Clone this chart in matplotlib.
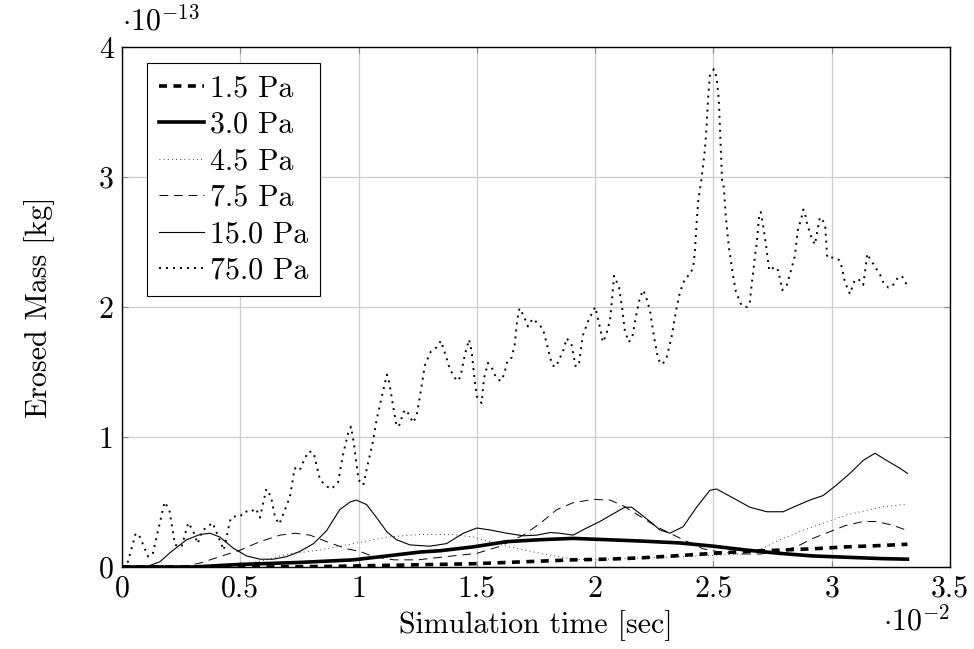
import matplotlib
matplotlib.use("Agg")
import matplotlib.pyplot as plt

plt.rcParams['font.family'] = 'cmr10'
plt.rcParams['mathtext.fontset'] = 'cm'
plt.rcParams['axes.formatter.use_mathtext'] = True

# time in 1e-2 s, mass in 1e-13 kg
t_1p5 = [0, 0.6, 0.9, 1.1, 1.344, 1.485, 1.626, 1.767, 1.907, 2.049,
         2.19, 2.33, 2.50, 2.64, 2.78, 2.92, 3.063, 3.204, 3.32]
m_1p5 = [0, 0.0, 0.005, 0.012, 0.02, 0.025, 0.035, 0.045, 0.055, 0.06,
         0.07, 0.085, 0.105, 0.12, 0.13, 0.14, 0.155, 0.165, 0.175]

t_3p0 = [0, 0.3, 0.5, 0.75, 0.978, 1.12, 1.26, 1.344, 1.485, 1.626, 1.767,
         1.907, 2.049, 2.19, 2.358, 2.50, 2.64, 2.78, 2.92, 3.063, 3.204, 3.32]
m_3p0 = [0, 0.0, 0.02, 0.035, 0.055, 0.085, 0.115, 0.125, 0.155, 0.195, 0.21,
         0.22, 0.21, 0.20, 0.185, 0.16, 0.13, 0.105, 0.085, 0.075, 0.065, 0.06]

t_4p5 = [0, 0.45, 0.6, 0.668, 0.724, 0.837, 0.978, 1.12, 1.26, 1.344, 1.40,
         1.485, 1.626, 1.767, 1.907, 1.99, 2.12, 2.3, 2.5, 2.62, 2.71, 2.78,
         2.92, 3.063, 3.204, 3.32]
m_4p5 = [0, 0.0, 0.05, 0.085, 0.105, 0.13, 0.18, 0.23, 0.25, 0.25, 0.25,
         0.23, 0.16, 0.105, 0.06, 0.055, 0.065, 0.075, 0.09, 0.10, 0.145, 0.21,
         0.31, 0.40, 0.46, 0.485]

t_7p5 = [0, 0.25, 0.33, 0.414, 0.5, 0.583, 0.668, 0.731, 0.795, 0.865, 0.95,
         1.006, 1.062, 1.15, 1.25, 1.372, 1.50, 1.598, 1.696, 1.767, 1.837,
         1.907, 1.992, 2.063, 2.119, 2.19, 2.26, 2.316, 2.372, 2.457, 2.513,
         2.60, 2.70, 2.78, 2.85, 2.92, 2.99, 3.06, 3.133, 3.19, 3.26, 3.32]
m_7p5 = [0, 0.0, 0.03, 0.08, 0.13, 0.195, 0.245, 0.26, 0.245, 0.195, 0.14,
         0.12, 0.08, 0.055, 0.055, 0.08, 0.105, 0.16, 0.245, 0.335, 0.44,
         0.495, 0.52, 0.515, 0.47, 0.39, 0.31, 0.26, 0.21, 0.14, 0.12,
         0.10, 0.10, 0.12, 0.155, 0.22, 0.27, 0.32, 0.35, 0.35, 0.32, 0.28]

t_15 = [0, 0.10, 0.16, 0.203, 0.273, 0.33, 0.372, 0.414, 0.47, 0.527, 0.583,
        0.64, 0.696, 0.752, 0.81, 0.865, 0.92, 0.964, 0.99, 1.034, 1.076,
        1.12, 1.16, 1.217, 1.30, 1.372, 1.443, 1.50, 1.555, 1.626, 1.696,
        1.753, 1.81, 1.85, 1.907, 1.964, 2.02, 2.077, 2.126, 2.154, 2.19,
        2.232, 2.274, 2.316, 2.372, 2.429, 2.485, 2.513, 2.584, 2.654, 2.725,
        2.795, 2.837, 2.908, 2.964, 3.02, 3.077, 3.133, 3.183, 3.232, 3.288, 3.32]
m_15 = [0, 0.0, 0.04, 0.11, 0.21, 0.25, 0.26, 0.23, 0.145, 0.085, 0.06,
        0.06, 0.08, 0.12, 0.18, 0.28, 0.44, 0.50, 0.515, 0.48, 0.38,
        0.27, 0.21, 0.17, 0.16, 0.18, 0.26, 0.30, 0.285, 0.26, 0.24,
        0.245, 0.265, 0.26, 0.245, 0.30, 0.35, 0.41, 0.46, 0.46, 0.41,
        0.35, 0.285, 0.26, 0.31, 0.46, 0.59, 0.60, 0.53, 0.46, 0.425,
        0.425, 0.46, 0.515, 0.55, 0.63, 0.72, 0.82, 0.875, 0.82, 0.76, 0.72]

t_75 = [0, 0.025, 0.058, 0.076, 0.11, 0.13, 0.18, 0.20, 0.224, 0.252,
        0.28, 0.30, 0.32, 0.34, 0.383, 0.41, 0.43, 0.46, 0.48, 0.50,
        0.52, 0.54, 0.566, 0.583, 0.61, 0.63, 0.647, 0.665, 0.68, 0.71,
        0.73, 0.75, 0.774, 0.79, 0.81, 0.837, 0.865, 0.885, 0.913, 0.935,
        0.956, 0.968, 0.98, 1.00, 1.02, 1.04, 1.06, 1.076, 1.098, 1.12,
        1.13, 1.144, 1.16, 1.17, 1.19, 1.20, 1.217, 1.23, 1.245, 1.26,
        1.28, 1.306, 1.33, 1.348, 1.368, 1.386, 1.416, 1.43, 1.45, 1.467,
        1.478, 1.488, 1.50, 1.52, 1.53, 1.547, 1.567, 1.58, 1.60, 1.615,
        1.63, 1.647, 1.66, 1.67, 1.68, 1.69, 1.703, 1.716, 1.736, 1.76,
        1.78, 1.795, 1.81, 1.82, 1.835, 1.848, 1.863, 1.88, 1.90, 1.918,
        1.932, 1.948, 1.97, 2.00, 2.008, 2.023, 2.032, 2.046, 2.063, 2.072,
        2.08, 2.101, 2.115, 2.126, 2.143, 2.158, 2.175, 2.189, 2.203, 2.215,
        2.232, 2.248, 2.263, 2.274, 2.285, 2.302, 2.323, 2.344, 2.358, 2.38,
        2.401, 2.415, 2.422, 2.429, 2.436, 2.45, 2.464, 2.471, 2.478, 2.485,
        2.502, 2.513, 2.523, 2.53, 2.537, 2.544, 2.553, 2.566, 2.584, 2.595,
        2.608, 2.619, 2.643, 2.654, 2.661, 2.668, 2.675, 2.683, 2.694, 2.70,
        2.708, 2.722, 2.736, 2.76, 2.774, 2.791, 2.809, 2.826, 2.844, 2.858,
        2.869, 2.88, 2.887, 2.896, 2.915, 2.929, 2.939, 2.95, 2.964, 2.973,
        2.981, 3.013, 3.032, 3.042, 3.056, 3.077, 3.088, 3.098, 3.115, 3.133,
        3.143, 3.15, 3.159, 3.187, 3.204, 3.218, 3.239, 3.257, 3.271, 3.295,
        3.306, 3.32]
m_75 = [0, 0.04, 0.26, 0.23, 0.08, 0.10, 0.50, 0.44, 0.17, 0.156,
        0.34, 0.28, 0.18, 0.28, 0.34, 0.22, 0.13, 0.38, 0.39, 0.39,
        0.43, 0.42, 0.45, 0.38, 0.60, 0.54, 0.38, 0.33, 0.40, 0.54,
        0.76, 0.74, 0.84, 0.89, 0.88, 0.67, 0.62, 0.60, 0.65, 0.87,
        1.03, 1.08, 0.95, 0.67, 0.63, 0.80, 0.96, 1.13, 1.31, 1.48,
        1.42, 1.26, 1.09, 1.08, 1.19, 1.21, 1.16, 1.11, 1.16, 1.32,
        1.55, 1.66, 1.69, 1.74, 1.63, 1.52, 1.43, 1.46, 1.64, 1.75,
        1.66, 1.48, 1.31, 1.26, 1.45, 1.57, 1.52, 1.46, 1.43, 1.48,
        1.59, 1.61, 1.71, 1.89, 1.99, 1.96, 1.91, 1.85, 1.91, 1.87,
        1.83, 1.72, 1.61, 1.55, 1.54, 1.60, 1.65, 1.76, 1.71, 1.54,
        1.57, 1.78, 1.89, 2.00, 1.94, 1.82, 1.73, 1.78, 1.90, 2.07,
        2.24, 2.15, 1.98, 1.81, 1.73, 1.78, 1.95, 2.07, 2.13, 2.08,
        1.97, 1.78, 1.63, 1.57, 1.56, 1.61, 1.77, 1.99, 2.11, 2.22,
        2.25, 2.31, 2.44, 2.65, 2.82, 2.99, 3.21, 3.39, 3.62, 3.78,
        3.83, 3.77, 3.59, 3.26, 2.96, 2.92, 2.68, 2.45, 2.23, 2.12,
        2.06, 2.01, 2.00, 2.04, 2.16, 2.27, 2.38, 2.49, 2.72, 2.73,
        2.65, 2.48, 2.28, 2.31, 2.28, 2.13, 2.16, 2.27, 2.39, 2.61,
        2.66, 2.75, 2.72, 2.64, 2.53, 2.48, 2.58, 2.69, 2.66, 2.61,
        2.38, 2.38, 2.36, 2.31, 2.19, 2.10, 2.16, 2.21, 2.21, 2.17,
        2.30, 2.41, 2.38, 2.30, 2.25, 2.19, 2.15, 2.16, 2.21, 2.24,
        2.21, 2.16]

labels = ['1.5 Pa', '3.0 Pa', '4.5 Pa', '7.5 Pa', '15.0 Pa', '75.0 Pa']
xticks = [0, 0.5, 1, 1.5, 2, 2.5, 3, 3.5]
xticklabels = ['0', '0.5', '1', '1.5', '2', '2.5', '3', '3.5']
yticks = [0, 1, 2, 3, 4]

fs = 21.5

fig = plt.figure(figsize=(9.74, 6.49), dpi=100)
ax = fig.add_axes([122/974, 82/649, 828/974, 520/649])

ax.plot(t_1p5, m_1p5, color='black', lw=2.6, linestyle=(0, (2.2, 1.8)), label=labels[0])
ax.plot(t_3p0, m_3p0, color='black', lw=2.6, linestyle='-', label=labels[1])
ax.plot(t_4p5, m_4p5, color='black', lw=0.6, linestyle=(0, (1, 4)), label=labels[2])
ax.plot(t_7p5, m_7p5, color='black', lw=0.7, linestyle=(0, (9, 6)), label=labels[3])
ax.plot(t_15, m_15, color='black', lw=0.8, linestyle='-', label=labels[4])
ax.plot(t_75, m_75, color='black', lw=1.4, linestyle=(0, (1, 2.6)), label=labels[5])

ax.set_xlim(0, 3.5)
ax.set_ylim(0, 4)
ax.set_xticks(xticks)
ax.set_xticklabels(xticklabels)
ax.set_yticks(yticks)
ax.set_yticklabels([str(v) for v in yticks])
ax.tick_params(direction='in', top=True, right=True, length=4, color='#888888',
               labelsize=fs, pad=6)
ax.grid(True, color='#cccccc', lw=0.9)
ax.set_axisbelow(True)
for sp in ax.spines.values():
    sp.set_linewidth(1.0)
    sp.set_color('black')

ax.set_xlabel('Simulation time [sec]', fontsize=fs, va='top')
ax.set_ylabel('Erosed Mass [kg]', fontsize=fs)
ax.xaxis.set_label_coords(0.5, -0.083)
ax.yaxis.set_label_coords(-0.081, 0.5)

ax.text(0.0, 1.02, r'$\cdot10^{-13}$', transform=ax.transAxes, fontsize=fs,
        ha='left', va='bottom')
ax.text(1.0, -0.074, r'$\cdot10^{-2}$', transform=ax.transAxes, fontsize=fs,
        ha='right', va='top')

leg = ax.legend(loc='upper left', bbox_to_anchor=(0.030, 0.969), borderaxespad=0,
                fontsize=fs, fancybox=False, edgecolor='black', framealpha=1,
                handlelength=1.5, handletextpad=0.2, labelspacing=0.3,
                borderpad=0.4)
leg.get_frame().set_linewidth(0.8)

fig.savefig('out.png', dpi=100)
